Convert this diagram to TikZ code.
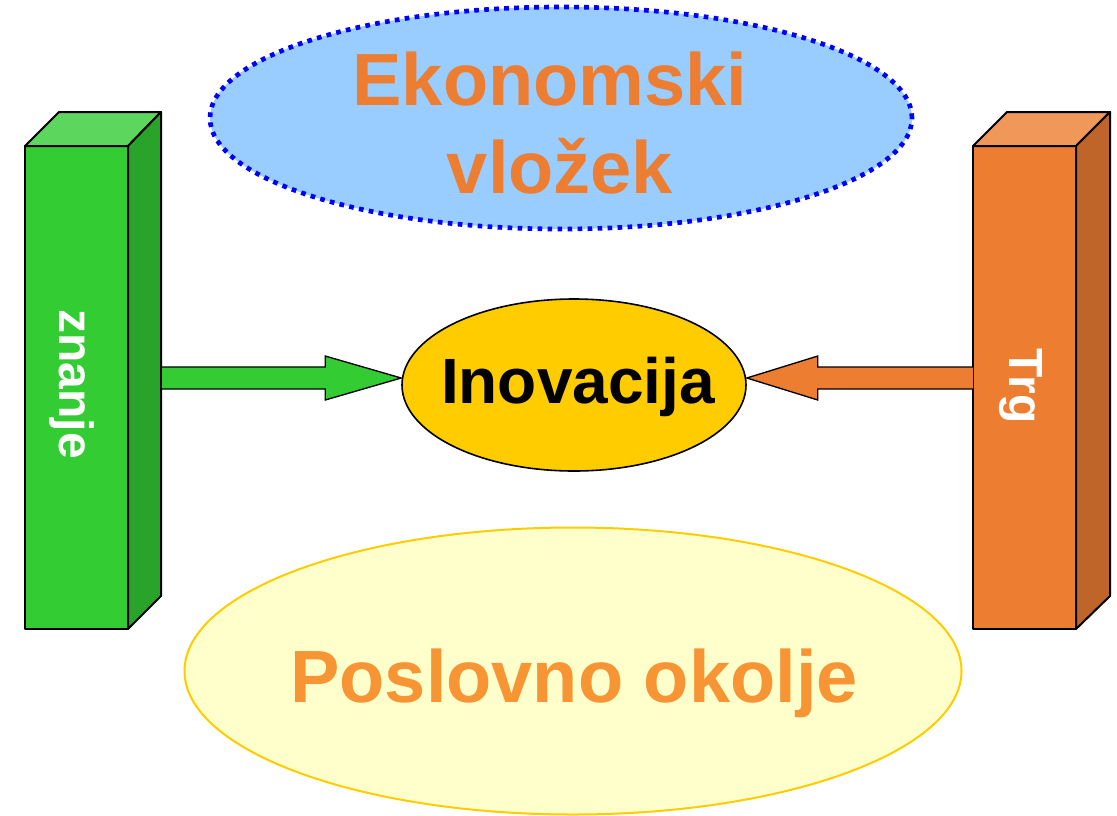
\documentclass[tikz,border=0pt]{standalone}
\usepackage{fontspec}
\setmainfont{Liberation Sans}
\usetikzlibrary{calc,shapes.geometric}
\definecolor{gfront}{HTML}{33CC33}
\definecolor{gtop}{HTML}{5CD65C}
\definecolor{gside}{HTML}{29A329}
\definecolor{ofront}{HTML}{ED7D31}
\definecolor{otop}{HTML}{F09859}
\definecolor{oside}{HTML}{C0652A}
\definecolor{bluefill}{HTML}{99CCFF}
\definecolor{bluedot}{HTML}{0000FF}
\definecolor{ylfill}{HTML}{FFFFCC}
\definecolor{ylborder}{HTML}{FFCC00}
\definecolor{inovfill}{HTML}{FFCC00}
\definecolor{ekotext}{HTML}{ED7D31}
\definecolor{postext}{HTML}{F79433}
\tikzset{
  face/.style={draw=black,line width=1.5pt,line join=round},
  blockarrow/.style={draw=black,line width=1pt,line join=miter},
  bigtext/.style={font=\fontsize{55.5}{60}\bfseries\selectfont,inner sep=0pt},
  sidetext/.style={font=\fontsize{36}{40}\bfseries\selectfont,text=white,inner sep=0pt,rotate=-90}
}
\begin{document}
\begin{tikzpicture}[x=0.75pt,y=-0.75pt]
\useasboundingbox (0,0) rectangle (1117,815);
% background ellipses
\node[ellipse,fill=ylfill,draw=ylborder,line width=1.5pt,minimum width=582.75pt,minimum height=215.25pt,inner sep=0pt] (pos) at (573,671) {};
\node[ellipse,fill=bluefill,draw=bluedot,line width=3.5pt,dash pattern=on 3.5pt off 4pt,minimum width=526.5pt,minimum height=166.5pt,inner sep=0pt] (eko) at (561,118) {};
\node[bigtext,text=ekotext,anchor=base] (eko1) at (550,105) {Ekonomski};
\node[bigtext,text=ekotext,anchor=base] (eko2) at (560,193) {vložek};
\node[bigtext,text=postext,anchor=base] (pos1) at (574,702) {Poslovno okolje};
% central ellipse
\node[ellipse,fill=inovfill,draw=black,line width=1.2pt,minimum width=258pt,minimum height=129pt,inner sep=0pt] (inov) at (574,385) {};
\node[font=\fontsize{48}{52}\bfseries\selectfont,inner sep=0pt,anchor=base] (inovtxt) at (578,403) {Inovacija};
% green box
\draw[face,fill=gfront] (25,146) rectangle (128,629);
\draw[face,fill=gtop] (25,146) -- (59,112) -- (161,112) -- (128,146) -- cycle;
\draw[face,fill=gside] (128,146) -- (161,112) -- (161,596) -- (128,629) -- cycle;
\node[sidetext] (znanje) at (72,384) {znanje};
% orange box
\draw[face,fill=ofront] (973,146) rectangle (1076,629);
\draw[face,fill=otop] (973,146) -- (1007,112) -- (1110,112) -- (1076,146) -- cycle;
\draw[face,fill=oside] (1076,146) -- (1110,112) -- (1110,596) -- (1076,629) -- cycle;
\node[sidetext] (trg) at (1021,386) {Trg};
% connectors
\coordinate (zR) at (162,378);
\coordinate (tL) at (973,378);
\coordinate (gtip) at (inov.west |- zR);
\coordinate (otip) at (inov.east |- tL);
\draw[blockarrow,fill=gfront] ($(zR)+(0,-11)$) -- ($(gtip)+(-76,-11)$) -- ($(gtip)+(-76,-22)$) -- (gtip) -- ($(gtip)+(-76,22)$) -- ($(gtip)+(-76,11)$) -- ($(zR)+(0,11)$);
\draw[blockarrow,fill=ofront] ($(tL)+(0,-11)$) -- ($(otip)+(71,-11)$) -- ($(otip)+(71,-22)$) -- (otip) -- ($(otip)+(71,22)$) -- ($(otip)+(71,11)$) -- ($(tL)+(0,11)$);
\end{tikzpicture}
\end{document}
